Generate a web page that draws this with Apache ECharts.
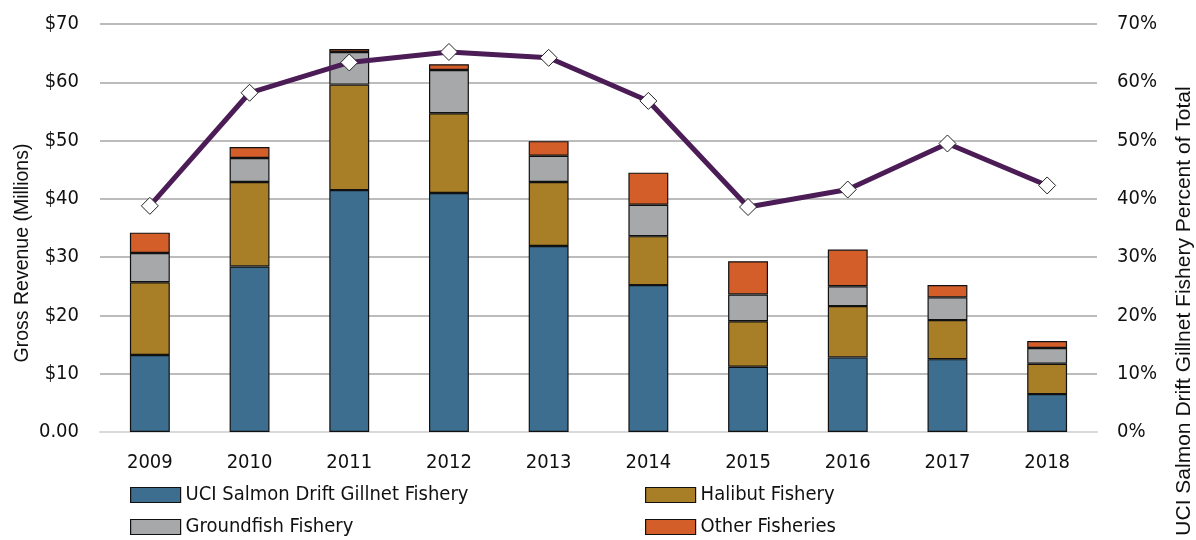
<!DOCTYPE html>
<html>
<head>
<meta charset="utf-8">
<script src="https://cdn.jsdelivr.net/npm/echarts@6/dist/echarts.min.js"></script>
<style>
  html, body { margin: 0; padding: 0; background: #fff; }
  #chart { width: 1196px; height: 540px; }
</style>
</head>
<body>
<div id="chart"></div>
<script>
// Años
const years = ['2009', '2010', '2011', '2012', '2013', '2014', '2015', '2016', '2017', '2018'];

// Ingresos brutos por pesquería (millones de dólares)
const salmonDrift = [13.2, 28.4, 41.5, 41.0, 31.9, 25.2, 11.2, 12.8, 12.5, 6.5];
const halibut = [12.5, 14.5, 18.1, 13.7, 11.0, 8.4, 7.8, 8.8, 6.7, 5.2];
const groundfish = [5.0, 4.1, 5.6, 7.4, 4.5, 5.4, 4.6, 3.4, 3.9, 2.7];
const otherFish = [3.5, 1.9, 0.5, 1.0, 2.5, 5.5, 5.7, 6.3, 2.1, 1.2];

// Porcentaje del total para la pesquería de salmón
const salmonPct = [38.8, 58.2, 63.4, 65.2, 64.2, 56.8, 38.6, 41.6, 49.5, 42.3];

const narrow = '"DejaVu Sans Condensed", "Liberation Sans Narrow", sans-serif';
const regular = '"Liberation Sans", Arial, sans-serif';

const barSeries = (name, data, color) => ({
  name,
  type: 'bar',
  stack: 'rev',
  barWidth: '40%',
  data,
  itemStyle: { color, borderColor: '#111', borderWidth: 1.2 },
});

const chart = echarts.init(document.getElementById('chart'));

chart.setOption({
  animation: false,
  textStyle: { fontFamily: narrow },
  grid: { left: 100, right: 99, top: 24, bottom: 108 },
  legend: [
    { data: ['UCI Salmon Drift Gillnet Fishery'], left: 130, top: 485 },
    { data: ['Halibut Fishery'], left: 645, top: 485 },
    { data: ['Groundfish Fishery'], left: 130, top: 517 },
    { data: ['Other Fisheries'], left: 645, top: 517 },
  ].map(l => ({
    ...l,
    icon: 'rect',
    itemWidth: 50,
    itemHeight: 15,
    itemGap: 4,
    padding: 0,
    itemStyle: { borderColor: '#111', borderWidth: 1.2 },
    textStyle: { fontFamily: narrow, fontSize: 20, color: '#111' },
  })),
  xAxis: {
    type: 'category',
    data: years,
    axisTick: { show: false },
    axisLine: { lineStyle: { color: '#d9d9d9', width: 2 } },
    axisLabel: { fontFamily: narrow, fontSize: 20, color: '#111', margin: 21 },
  },
  yAxis: [
    {
      type: 'value',
      min: 0,
      max: 70,
      interval: 10,
      axisLabel: {
        fontFamily: narrow,
        fontSize: 20,
        color: '#111',
        margin: 21,
        formatter: v => (v === 0 ? '0.00' : '$' + v),
      },
      splitLine: { lineStyle: { color: '#a6a6a6', width: 1.5 } },
    },
    {
      type: 'value',
      min: 0,
      max: 70,
      interval: 10,
      axisLabel: {
        fontFamily: narrow,
        fontSize: 20,
        color: '#111',
        margin: 20,
        formatter: v => v + '%',
      },
      splitLine: { show: false },
    },
  ],
  graphic: [
    {
      type: 'text',
      x: 23,
      y: 253,
      rotation: Math.PI / 2,
      style: {
        text: 'Gross Revenue (Millions)',
        font: '19.5px ' + regular,
        fill: '#111',
        align: 'center',
        verticalAlign: 'middle',
      },
    },
    {
      type: 'text',
      x: 1184,
      y: 311,
      rotation: Math.PI / 2,
      style: {
        text: 'UCI Salmon Drift Gillnet Fishery Percent of Total',
        font: '21px ' + regular,
        fill: '#111',
        align: 'center',
        verticalAlign: 'middle',
      },
    },
  ],
  series: [
    barSeries('UCI Salmon Drift Gillnet Fishery', salmonDrift, '#3d6e8f'),
    barSeries('Halibut Fishery', halibut, '#a87e26'),
    barSeries('Groundfish Fishery', groundfish, '#a7a8aa'),
    barSeries('Other Fisheries', otherFish, '#d35e2a'),
    {
      name: 'Percent',
      type: 'line',
      yAxisIndex: 1,
      data: salmonPct,
      symbol: 'diamond',
      symbolSize: 17,
      lineStyle: { color: '#4b1c56', width: 5 },
      itemStyle: { color: '#fff', borderColor: '#222', borderWidth: 1 },
      z: 5,
    },
  ],
});
</script>
</body>
</html>
